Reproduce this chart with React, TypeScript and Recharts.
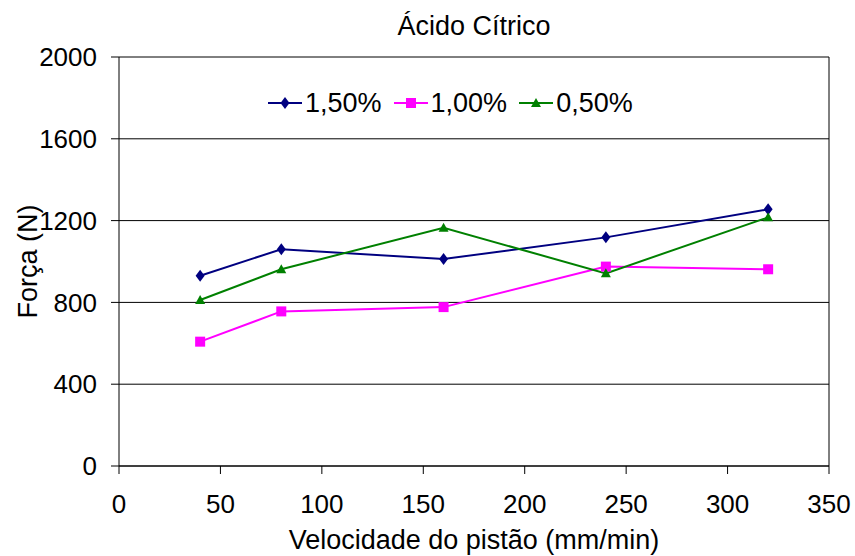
import React from 'react';
import { LineChart, Line, XAxis, YAxis, CartesianGrid, ReferenceLine } from 'recharts';

const velocidades = [40, 80, 160, 240, 320];
const forca150 = [930, 1060, 1012, 1118, 1255];
const forca100 = [608, 756, 777, 975, 962];
const forca050 = [812, 962, 1165, 942, 1216];
const xTicks = [0, 50, 100, 150, 200, 250, 300, 350];
const yTicks = [0, 400, 800, 1200, 1600, 2000];

const series = [
  { key: '1,50%', values: forca150, color: '#000080', marker: 'diamond' },
  { key: '1,00%', values: forca100, color: '#FF00FF', marker: 'square' },
  { key: '0,50%', values: forca050, color: '#008000', marker: 'triangle' },
];

const chartData = velocidades.map((v, i) => {
  const row: Record<string, number> = { v };
  series.forEach((s) => { row[s.key] = s.values[i]; });
  return row;
});

const font = '"Liberation Sans", Arial, sans-serif';

function Marker({ type, cx, cy, color }: { type: string; cx: number; cy: number; color: string }) {
  if (type === 'diamond') {
    return <path d={`M${cx},${cy - 6}L${cx + 4.5},${cy}L${cx},${cy + 6}L${cx - 4.5},${cy}Z`} fill={color} />;
  }
  if (type === 'square') {
    return <rect x={cx - 5} y={cy - 5} width={10} height={10} fill={color} />;
  }
  return <path d={`M${cx},${cy - 5}L${cx + 5},${cy + 4}L${cx - 5},${cy + 4}Z`} fill={color} />;
}

function makeDot(type: string, color: string) {
  return (props: any) => {
    const { cx, cy, index } = props;
    return (
      <g key={`${type}-${index}`}>
        <Marker type={type} cx={cx} cy={cy} color={color} />
      </g>
    );
  };
}

// legend sits inside the plot, drawn as plain html on top of the chart
function ChartLegend() {
  return (
    <div
      style={{
        position: 'absolute',
        left: 268,
        top: 87,
        display: 'flex',
        alignItems: 'center',
        fontFamily: font,
        fontSize: 27,
        lineHeight: '32px',
        color: '#000',
      }}
    >
      {series.map((s) => (
        <div key={s.key} style={{ display: 'flex', alignItems: 'center', marginRight: 12 }}>
          <svg width={34} height={16} style={{ marginRight: 3 }}>
            <line x1={0} y1={8} x2={34} y2={8} stroke={s.color} strokeWidth={2} />
            <Marker type={s.marker} cx={17} cy={8} color={s.color} />
          </svg>
          <span>{s.key}</span>
        </div>
      ))}
    </div>
  );
}

export default function App() {
  const tickStyle = { fontSize: 26, fill: '#000', fontFamily: font };
  return (
    <div style={{ position: 'absolute', left: 0, top: 0, width: 855, height: 556, background: '#fff' }}>
      <LineChart
        width={855}
        height={556}
        data={chartData}
        margin={{ top: 57, right: 26, bottom: 0, left: 0 }}
        style={{ position: 'absolute', left: 0, top: 0 }}
      >
        <CartesianGrid vertical={false} stroke="#000" strokeWidth={1} />
        <XAxis
          type="number"
          dataKey="v"
          domain={[0, 350]}
          ticks={xTicks}
          height={90}
          tickSize={8}
          tickMargin={21}
          tick={tickStyle}
          axisLine={{ stroke: '#000' }}
          tickLine={{ stroke: '#000' }}
          label={{
            value: 'Velocidade do pistão (mm/min)',
            position: 'insideBottom',
            offset: 7,
            style: { fontSize: 27, fill: '#000', fontFamily: font },
          }}
        />
        <YAxis
          type="number"
          domain={[0, 2000]}
          ticks={yTicks}
          width={119}
          tickSize={8}
          tickMargin={14}
          tick={tickStyle}
          axisLine={{ stroke: '#000' }}
          tickLine={{ stroke: '#000' }}
          label={{
            value: 'Força (N)',
            angle: -90,
            position: 'insideLeft',
            offset: 27,
            style: { fontSize: 27, fill: '#000', fontFamily: font, textAnchor: 'middle' },
          }}
        />
        <ReferenceLine x={350} stroke="#000" />
        {series.map((s) => (
          <Line
            key={s.key}
            type="linear"
            dataKey={s.key}
            stroke={s.color}
            strokeWidth={2}
            dot={makeDot(s.marker, s.color)}
            activeDot={false}
            isAnimationActive={false}
          />
        ))}
      </LineChart>
      <div
        style={{
          position: 'absolute',
          left: 119,
          top: 11,
          width: 710,
          textAlign: 'center',
          fontFamily: font,
          fontSize: 27,
          lineHeight: '30px',
          color: '#000',
        }}
      >
        Ácido Cítrico
      </div>
      <ChartLegend />
    </div>
  );
}
